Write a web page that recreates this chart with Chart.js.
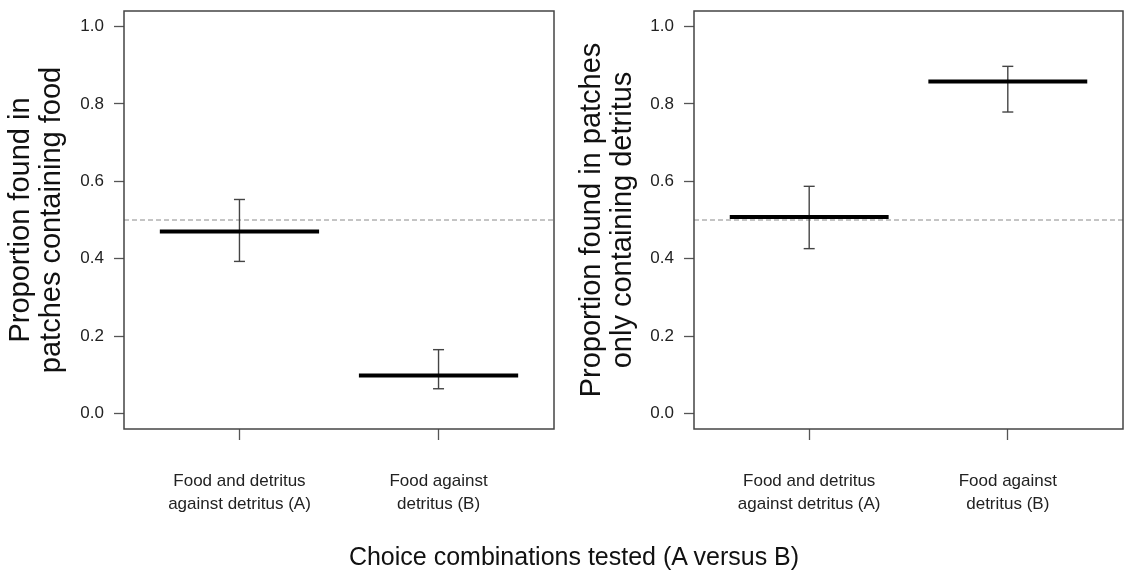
<!DOCTYPE html>
<html lang="en">
<head>
<meta charset="UTF-8">
<title>Proportion found in patches</title>
<script src="https://cdn.jsdelivr.net/npm/chart.js"></script>
<style>
  body { margin: 0; background: #fff; }
  #wrap { position: relative; width: 1124px; height: 573px; overflow: hidden; }
  canvas { position: absolute; top: 0; }
  #left { left: 0; }
  #right { left: 560px; }
  #xtitle {
    position: absolute; top: 544px; left: 574px; transform: translateX(-50%);
    white-space: nowrap; font: 25px/25px "Liberation Sans", Arial, sans-serif; color: #111;
  }
</style>
</head>
<body>
<div id="wrap">
  <canvas id="left" width="560" height="573"></canvas>
  <canvas id="right" width="564" height="573"></canvas>
  <div id="xtitle">Choice combinations tested (A versus B)</div>
</div>
<script>
  // x categories, same in both panels
  const categories = [
    ['Food and detritus', 'against detritus (A)'],
    ['Food against', 'detritus (B)']
  ];
  const yTicks = [0, 0.2, 0.4, 0.6, 0.8, 1.0];
  const chanceLevel = 0.5;

  // left panel: patches containing food
  const foodMean  = [0.470, 0.098];
  const foodLower = [0.393, 0.064];
  const foodUpper = [0.553, 0.165];

  // right panel: patches only containing detritus
  const detritusMean  = [0.508, 0.858];
  const detritusLower = [0.426, 0.779];
  const detritusUpper = [0.587, 0.897];

  const FONT = '"Liberation Sans", Arial, sans-serif';
  const xMin = 0.42, xMax = 2.58;   // like R xlim 0.5-2.5 plus 4%
  const yMin = -0.04, yMax = 1.04;
  const HALF = 0.4;                 // half width of the mean bar

  // frame round the plot area
  const boxPlugin = {
    id: 'box',
    afterDraw(chart) {
      const a = chart.chartArea, c = chart.ctx;
      c.save();
      c.strokeStyle = '#444';
      c.lineWidth = 1.5;
      c.strokeRect(a.left, a.top, a.right - a.left, a.bottom - a.top);
      c.restore();
    }
  };

  function makeDatasets(mean, lower, upper) {
    const sets = [{
      data: [{x: xMin, y: chanceLevel}, {x: xMax, y: chanceLevel}],
      borderColor: '#8a8a8a', borderWidth: 1, borderDash: [5, 3],
      pointRadius: 0, order: 3
    }];
    mean.forEach((m, i) => {
      const x = i + 1;
      sets.push({
        data: [{x: x - HALF, y: m}, {x: x + HALF, y: m}],
        borderColor: '#000', borderWidth: 4, pointRadius: 0, order: 1
      });
      sets.push({
        data: [{x: x, y: lower[i]}, {x: x, y: upper[i]}],
        borderColor: '#444', borderWidth: 1.4,
        pointStyle: 'line', pointRadius: 5.5, pointBorderWidth: 1.4,
        pointBorderColor: '#444', order: 2
      });
    });
    return sets;
  }

  function makeChart(id, mean, lower, upper, title, yWidth, titlePad, padRight) {
    return new Chart(document.getElementById(id), {
      type: 'line',
      data: { datasets: makeDatasets(mean, lower, upper) },
      options: {
        responsive: false,
        animation: false,
        layout: { autoPadding: false, padding: { top: 11, right: padRight, bottom: 0, left: 0 } },
        plugins: { legend: { display: false }, tooltip: { enabled: false } },
        scales: {
          x: {
            type: 'linear', min: xMin, max: xMax,
            afterBuildTicks: s => { s.ticks = categories.map((c, i) => ({ value: i + 1 })); },
            afterFit: s => { s.height = 144; s.paddingLeft = 0; s.paddingRight = 0; },
            ticks: {
              callback: (v, i) => categories[i],
              font: { family: FONT, size: 17, lineHeight: '23px' },
              color: '#222', padding: 30, maxRotation: 0, autoSkip: false
            },
            grid: { drawOnChartArea: false, drawTicks: true, tickLength: 11, tickColor: '#555', tickWidth: 1.3 },
            border: { display: false }
          },
          y: {
            min: yMin, max: yMax,
            afterBuildTicks: s => { s.ticks = yTicks.map(v => ({ value: v })); },
            afterFit: s => { s.width = yWidth; s.paddingTop = 0; s.paddingBottom = 0; },
            ticks: {
              callback: v => v.toFixed(1),
              font: { family: FONT, size: 17 },
              color: '#222', padding: 10
            },
            grid: { drawOnChartArea: false, drawTicks: true, tickLength: 10, tickColor: '#555', tickWidth: 1.3 },
            border: { display: false },
            title: {
              display: true, text: title, color: '#111',
              font: { family: FONT, size: 29, lineHeight: '31.5px' },
              padding: { top: titlePad, bottom: 0 }
            }
          }
        }
      },
      plugins: [boxPlugin]
    });
  }

  makeChart('left', foodMean, foodLower, foodUpper,
    ['Proportion found in', 'patches containing food'], 124, 5, 6);
  makeChart('right', detritusMean, detritusLower, detritusUpper,
    ['Proportion found in patches', 'only containing detritus'], 134, 16, 1);
</script>
</body>
</html>
